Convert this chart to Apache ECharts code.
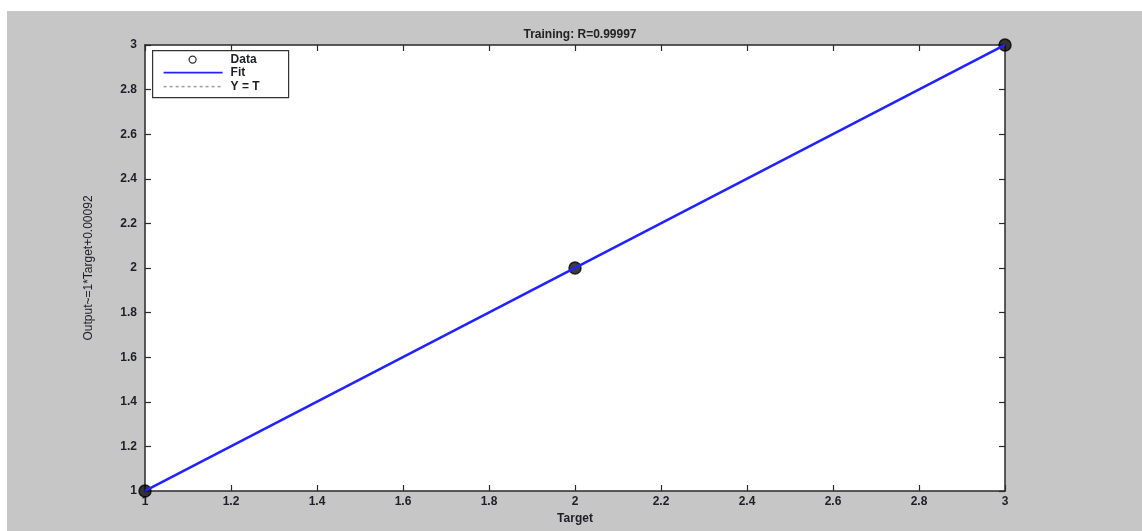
<!DOCTYPE html>
<html>
<head>
<meta charset="utf-8">
<script src="https://cdn.jsdelivr.net/npm/echarts@6/dist/echarts.min.js"></script>
<style>
  html, body { margin: 0; padding: 0; background: #ffffff; }
  #chart { position: absolute; left: 7px; top: 11px; width: 1135px; height: 520px; }
</style>
</head>
<body>
<div id="chart"></div>
<script>
// ---- data ----
const titleText = 'Training: R=0.99997';
const xAxisLabel = 'Target';
const yAxisLabel = 'Output~=1*Target+0.00092';
const legendNames = ['Data', 'Fit', 'Y = T'];
const dataTarget = [1, 2, 3];
const dataOutput = [1, 2, 3];
const fitTarget = [1, 3];
const fitOutput = [1.00092, 3.00092];
const identityTarget = [1, 3];
const identityOutput = [1, 3];
const axisMin = 1, axisMax = 3, axisStep = 0.2;

const zip = (a, b) => a.map((v, i) => [v, b[i]]);
const font = 'Liberation Sans, Arial, sans-serif';
const axisColor = '#2a2a2a';

const chart = echarts.init(document.getElementById('chart'), null, { renderer: 'canvas' });

const baseAxis = {
  min: axisMin, max: axisMax, interval: axisStep,
  axisLine: { show: true, lineStyle: { color: axisColor, width: 1.5 } },
  axisTick: { show: true, inside: true, length: 6, lineStyle: { color: axisColor, width: 1.2 } },
  splitLine: { show: false },
  axisLabel: { color: '#1e1e28', fontFamily: font, fontSize: 12, fontWeight: 'bold' }
};

const lx = 145, ly = 39;
chart.setOption({
  backgroundColor: '#c6c6c6',
  animation: false,
  title: {
    text: titleText, left: 568, top: 13, textAlign: 'center',
    textStyle: { fontFamily: font, fontSize: 12, fontWeight: 'bold', color: '#222' }
  },
  grid: { left: 138, top: 34, width: 860, height: 446, show: true, backgroundColor: '#ffffff', borderWidth: 0 },
  xAxis: [
    Object.assign({}, baseAxis, {
      type: 'value', position: 'bottom',
      name: xAxisLabel, nameLocation: 'middle', nameGap: 20,
      nameTextStyle: { fontFamily: font, fontSize: 12, fontWeight: 'bold', color: '#1e1e28' },
      axisLabel: Object.assign({}, baseAxis.axisLabel, { margin: 5 })
    }),
    Object.assign({}, baseAxis, { type: 'value', position: 'top', axisLabel: { show: false } })
  ],
  yAxis: [
    Object.assign({}, baseAxis, {
      type: 'value', position: 'left',
      name: yAxisLabel, nameLocation: 'middle', nameGap: 50, nameRotate: 90,
      nameTextStyle: { fontFamily: font, fontSize: 12, color: '#1e1e28' },
      axisLabel: Object.assign({}, baseAxis.axisLabel, { margin: 8 })
    }),
    Object.assign({}, baseAxis, { type: 'value', position: 'right', axisLabel: { show: false } })
  ],
  series: [
    {
      name: legendNames[2], type: 'line', data: zip(identityTarget, identityOutput),
      showSymbol: false, lineStyle: { color: '#a0a0a0', width: 1.5, type: [3, 3] }, z: 2
    },
    {
      name: legendNames[0], type: 'scatter', data: zip(dataTarget, dataOutput),
      symbol: 'circle', symbolSize: 12, clip: false,
      itemStyle: { color: '#0d0d0d', borderColor: '#000', borderWidth: 1.5 }, z: 3
    },
    {
      name: legendNames[1], type: 'line', data: zip(fitTarget, fitOutput),
      showSymbol: false, lineStyle: { color: '#2222ff', width: 2.5 }, z: 4
    }
  ],
  graphic: [
    {
      type: 'group', left: lx, top: ly, z: 100,
      children: [
        { type: 'rect', shape: { x: 0, y: 0, width: 136, height: 47 },
          style: { fill: '#ffffff', stroke: '#333', lineWidth: 1.2 } },
        { type: 'circle', shape: { cx: 40, cy: 9, r: 3.5 },
          style: { fill: 'none', stroke: '#333', lineWidth: 1.3 } },
        { type: 'text', x: 78, y: 9, style: { text: legendNames[0], font: 'bold 12px ' + font, fill: '#1e1e28', verticalAlign: 'middle' } },
        { type: 'line', shape: { x1: 11, y1: 22, x2: 70, y2: 22 },
          style: { stroke: '#2222ff', lineWidth: 1.6 } },
        { type: 'text', x: 78, y: 22, style: { text: legendNames[1], font: 'bold 12px ' + font, fill: '#1e1e28', verticalAlign: 'middle' } },
        { type: 'line', shape: { x1: 11, y1: 36, x2: 70, y2: 36 },
          style: { stroke: '#a0a0a0', lineWidth: 1.6, lineDash: [3, 3] } },
        { type: 'text', x: 78, y: 36, style: { text: legendNames[2], font: 'bold 12px ' + font, fill: '#1e1e28', verticalAlign: 'middle' } }
      ]
    }
  ]
});
</script>
</body>
</html>
